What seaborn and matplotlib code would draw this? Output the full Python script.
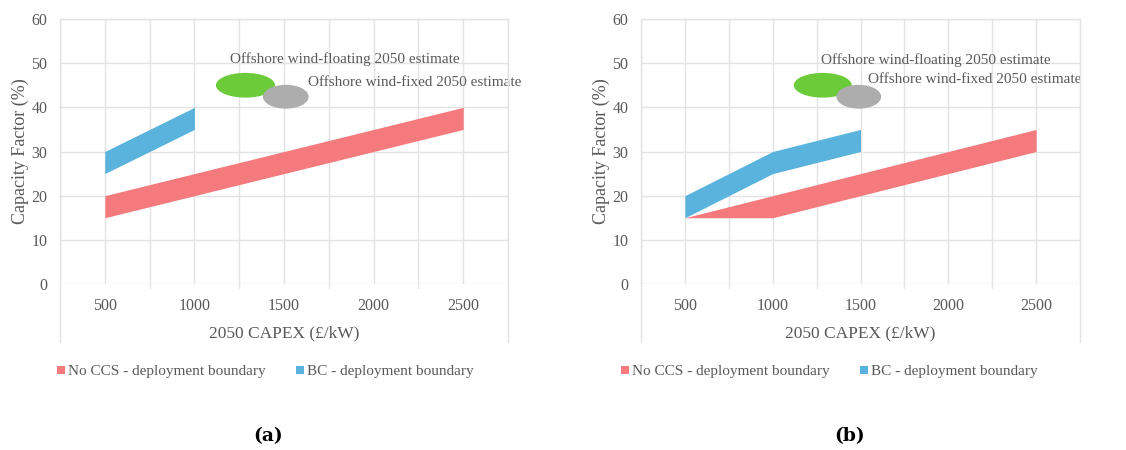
import matplotlib
matplotlib.use("Agg")
import matplotlib.pyplot as plt
from matplotlib.patches import Ellipse, Patch
from matplotlib.lines import Line2D
import seaborn as sns

sns.set_theme(style="white")
plt.rcParams["font.family"] = ["Liberation Serif", "DejaVu Serif"]

# ---- data -------------------------------------------------------------
capex = [500, 1000, 1500, 2000, 2500]

# panel (a)
a_noccs_low = [15, 20, 25, 30, 35]
a_noccs_high = [20, 25, 30, 35, 40]
a_bc_capex = [500, 1000]
a_bc_low = [25, 35]
a_bc_high = [30, 40]
a_floating = (1285, 45.0)
a_fixed = (1510, 42.4)

# panel (b)
b_noccs_low = [15, 15, 20, 25, 30]
b_noccs_high = [15, 20, 25, 30, 35]
b_bc_capex = [500, 1000, 1500]
b_bc_low = [15, 25, 30]
b_bc_high = [20, 30, 35]
b_floating = (1285, 45.0)
b_fixed = (1490, 42.4)

x_ticks = [500, 1000, 1500, 2000, 2500]
y_ticks = [0, 10, 20, 30, 40, 50, 60]
label_floating = "Offshore wind-floating 2050 estimate"
label_fixed = "Offshore wind-fixed 2050 estimate"
legend_noccs = "No CCS - deployment boundary"
legend_bc = "BC - deployment boundary"

# ---- style ------------------------------------------------------------
RED = "#F47A7D"
BLUE = "#59B3DD"
GREEN = "#6BCB38"
GREY = "#ADADAD"
TXT = "#595959"
GRID = "#E3E3E3"

W, H = 1126, 450
fig = plt.figure(figsize=(W / 100, H / 100), dpi=100)


def px_axes(left, right, top, bottom):
    return fig.add_axes([left / W, 1 - bottom / H, (right - left) / W, (bottom - top) / H])


def draw_panel(left, right, noccs_low, noccs_high, bc_x, bc_low, bc_high,
               floating, fixed, float_lbl_pos, fixed_lbl_pos, legend_x, tag, tag_x):
    ax = px_axes(left, right, 19, 284)
    ax.set_xlim(250, 2750)
    ax.set_ylim(0, 60)

    # grid
    for y in y_ticks:
        ax.axhline(y, color=GRID, lw=1.0, zorder=0)
    for x in range(250, 2751, 250):
        ax.axvline(x, color=GRID, lw=1.0, zorder=0)
    # small ticks hanging under the zero line
    for x in range(750, 2500, 500):
        ax.plot([x, x], [0, -1.0], color=GRID, lw=1.0, clip_on=False)

    # deployment boundaries
    ax.fill_between(capex, noccs_low, noccs_high, color=RED, lw=0, zorder=2)
    ax.fill_between(bc_x, bc_low, bc_high, color=BLUE, lw=0, zorder=2)

    # 2050 offshore wind estimates
    ax.add_patch(Ellipse(floating, 330, 5.6, color=GREEN, lw=0, zorder=3))
    ax.add_patch(Ellipse(fixed, 255, 5.4, color=GREY, lw=0, zorder=3))
    ax.text(*float_lbl_pos, label_floating, color=TXT, fontsize=11,
            va="center", ha="left", zorder=4)
    ax.text(*fixed_lbl_pos, label_fixed, color=TXT, fontsize=11,
            va="center", ha="left", zorder=4, clip_on=False)

    for s in ax.spines.values():
        s.set_visible(False)
    ax.set_xticks(x_ticks)
    ax.set_xticklabels([str(v) for v in x_ticks])
    ax.set_yticks(y_ticks)
    ax.tick_params(axis="both", length=0, labelsize=11.5, labelcolor=TXT)
    ax.tick_params(axis="x", pad=10)
    ax.tick_params(axis="y", pad=9)
    ax.set_ylabel("Capacity Factor (%)", fontsize=13, color=TXT, labelpad=2)
    ax.set_xlabel("2050 CAPEX (£/kW)", fontsize=12.5, color=TXT)
    ax.xaxis.set_label_coords(0.5, -41 / 265)

    # chart frame (top, left, right), running down past the category labels
    ft = fig.transFigure
    for xs, ys in [((left, right), (19, 19)), ((left, left), (19, 342)), ((right, right), (19, 342))]:
        fig.add_artist(Line2D([xs[0] / W, xs[1] / W], [1 - ys[0] / H, 1 - ys[1] / H],
                              color=GRID, lw=1.0, transform=ft))

    handles = [Patch(color=RED, lw=0), Patch(color=BLUE, lw=0)]
    fig.legend(handles, [legend_noccs, legend_bc], loc="center left",
               bbox_to_anchor=(legend_x / W, 1 - 372 / H), ncol=2, frameon=False,
               fontsize=11, labelcolor=TXT, handlelength=0.5, handleheight=0.5,
               handletextpad=0.2, columnspacing=2.0, borderaxespad=0, borderpad=0)

    fig.text(tag_x / W, 1 - 436 / H, tag, fontsize=13.5, fontweight="bold",
             family="DejaVu Serif", color="black", ha="center", va="center")
    return ax


draw_panel(60, 508, a_noccs_low, a_noccs_high, a_bc_capex, a_bc_low, a_bc_high,
           a_floating, a_fixed, (1197, 50.9), (1634, 45.7), 57, "(a)", 268)
draw_panel(641, 1080, b_noccs_low, b_noccs_high, b_bc_capex, b_bc_low, b_bc_high,
           b_floating, b_fixed, (1273, 50.8), (1545, 46.2), 621, "(b)", 850)

fig.savefig("out.png", dpi=100)
